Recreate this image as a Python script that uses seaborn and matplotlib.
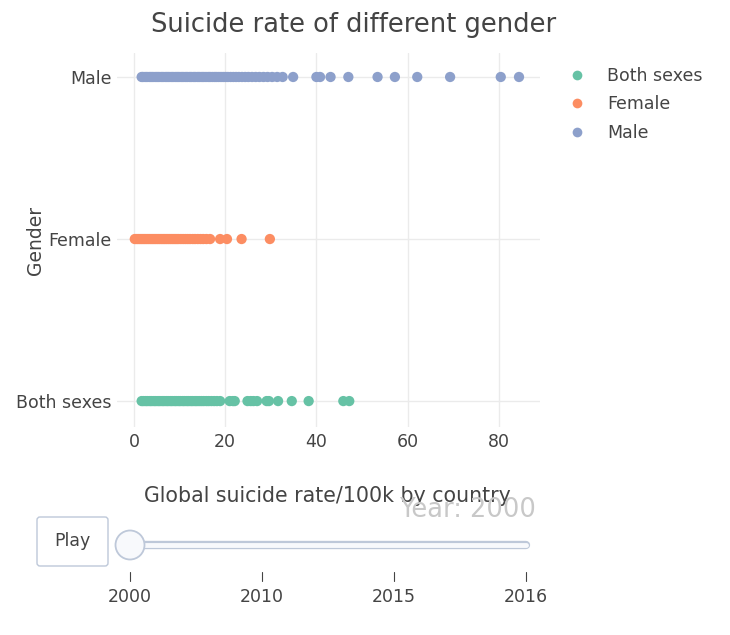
import numpy as np
import pandas as pd
import matplotlib
matplotlib.use("Agg")
import matplotlib.pyplot as plt
import seaborn as sns
from matplotlib.lines import Line2D
from matplotlib.patches import FancyBboxPatch, Circle

# suicide rate per 100k by country, year 2000
both_sexes = [1.7, 2.1, 2.6, 3.0, 3.5, 3.9, 4.4, 4.8, 5.3, 5.7, 6.2, 6.6, 7.1, 7.5,
              8.0, 8.4, 8.9, 9.3, 9.8, 10.2, 10.7, 11.1, 11.6, 12.0, 12.5, 12.9,
              13.4, 13.8, 14.3, 14.8, 15.3, 15.9, 16.4, 17.0, 17.6, 18.2, 18.9,
              21.0, 21.7, 22.1, 24.9, 25.6, 26.2, 27.0, 29.1, 29.6, 31.6, 34.6,
              38.3, 45.9, 47.2]
female = [0.2, 0.6, 1.0, 1.4, 1.8, 2.2, 2.6, 3.0, 3.4, 3.8, 4.2, 4.6, 5.0, 5.4,
          5.8, 6.2, 6.6, 7.0, 7.4, 7.8, 8.2, 8.6, 9.0, 9.4, 9.8, 10.3, 10.8,
          11.3, 11.8, 12.3, 12.9, 13.4, 14.0, 14.6, 15.2, 15.9, 16.7, 18.9, 20.4,
          23.6, 29.8]
male = [1.7, 2.0, 2.5, 2.9, 3.4, 3.8, 4.2, 4.7, 5.1, 5.5, 6.0, 6.4, 6.9, 7.3,
        7.7, 8.2, 8.6, 9.1, 9.5, 9.9, 10.4, 10.8, 11.3, 11.7, 12.2, 12.6, 13.1,
        13.5, 14.0, 14.4, 14.9, 15.3, 15.8, 16.3, 16.7, 17.2, 17.7, 18.1, 18.6,
        19.1, 19.6, 20.1, 20.6, 21.2, 21.8, 22.4, 23.0, 23.7, 24.4, 25.1, 25.9,
        26.7, 27.5, 28.4, 29.3, 30.3, 31.4, 32.6, 34.9, 40.0, 40.8, 43.1, 47.0,
        53.4, 57.2, 62.1, 69.3, 80.4, 84.4]

genders = ["Both sexes", "Female", "Male"]
years = [2000, 2010, 2015, 2016]
current_year = 2000

df = pd.DataFrame({
    "Gender": ["Both sexes"] * len(both_sexes) + ["Female"] * len(female) + ["Male"] * len(male),
    "Rate": both_sexes + female + male,
})

sns.set_style("white")
plt.rcParams["font.family"] = ["DejaVu Sans"]
txt = "#444444"
palette = dict(zip(genders, sns.color_palette("Set2", 3)))

W, H = 730, 635
fig = plt.figure(figsize=(W / 100, H / 100), dpi=100)
ax = fig.add_axes([117 / W, 1 - 427 / H, (540 - 117) / W, (427 - 53) / H])

sns.stripplot(data=df, x="Rate", y="Gender", hue="Gender", hue_order=genders,
              order=["Male", "Female", "Both sexes"], palette=palette,
              jitter=False, size=7.4, linewidth=0, legend=False, ax=ax, zorder=3)

ax.set_xlim(-3.7, 89)
ax.set_ylim(2.16, -0.148)
ax.set_xticks([0, 20, 40, 60, 80])
ax.grid(True, color="#ebebeb", linewidth=1)
ax.set_axisbelow(True)
for s in ax.spines.values():
    s.set_visible(False)
ax.tick_params(length=0, labelsize=12.5, labelcolor=txt, pad=4)
ax.set_xlabel("")
ax.set_ylabel("Gender", fontsize=13.5, color=txt)
ax.yaxis.set_label_coords((45 - 117) / (540 - 117), 0.5)

fig.text(354 / W, 1 - 25 / H, "Suicide rate of different gender", ha="center",
         va="center", fontsize=18.5, color=txt)

handles = [Line2D([], [], marker="o", linestyle="", markersize=7,
                  markerfacecolor=palette[g], markeredgewidth=0) for g in genders]
ax.legend(handles, genders, loc="upper left", bbox_to_anchor=(560 / W, 1 - 58 / H),
          bbox_transform=fig.transFigure, frameon=False, fontsize=12.5,
          borderpad=0, handlelength=1.0, handletextpad=1.2, labelspacing=0.62,
          labelcolor=txt)

# animation slider underneath (static frame)
sl = fig.add_axes([0, 0, 1, 1], facecolor="none")
sl.set_xlim(0, W)
sl.set_ylim(H, 0)
sl.axis("off")

sl.text(327, 496, "Global suicide rate/100k by country", ha="center", va="center",
        fontsize=14.8, color=txt)
sl.text(536, 510, f"Year: {current_year}", ha="right", va="center",
        fontsize=18.5, color="#c8c8c8")

sl.add_patch(FancyBboxPatch((37, 517), 71, 49, boxstyle="round,pad=0,rounding_size=3",
                            facecolor="white", edgecolor="#bec8d9", linewidth=1))
sl.text(72.5, 541, "Play", ha="center", va="center", fontsize=12.5, color=txt)

x0, x1 = 130, 526
sl.plot([x0, x1], [545, 545], color="#bec8d9", linewidth=6, solid_capstyle="round")
sl.plot([x0, x1], [545, 545], color="#f8f9fc", linewidth=3.5, solid_capstyle="round")
sl.add_patch(Circle((x0, 545), 14.5, facecolor="#f8f9fc", edgecolor="#bec8d9",
                    linewidth=1.3, zorder=4))
step = (x1 - x0) / (len(years) - 1)
for i, yr in enumerate(years):
    xp = x0 + i * step
    sl.plot([xp, xp], [572, 581], color="#444444", linewidth=0.8)
    sl.text(xp, 597, str(yr), ha="center", va="center", fontsize=12.5, color=txt)

fig.savefig("out.png", dpi=100)
